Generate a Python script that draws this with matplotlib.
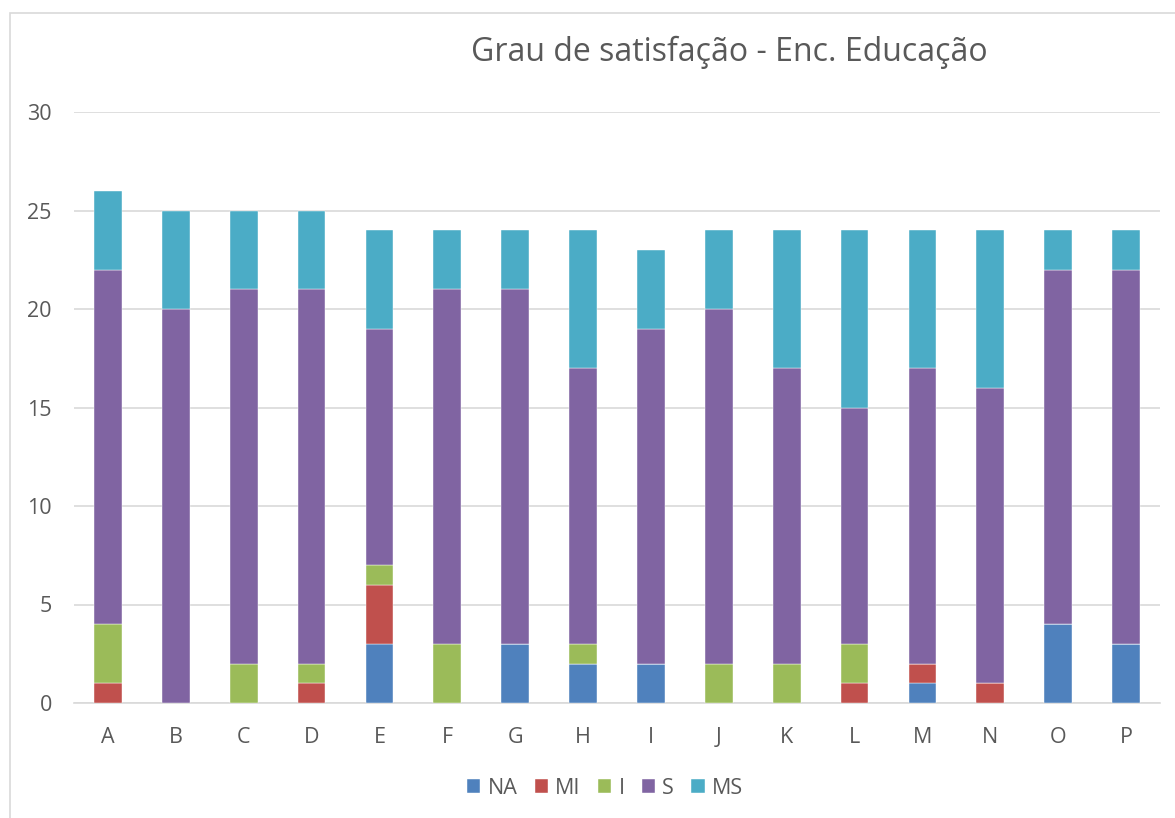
import matplotlib
matplotlib.use('Agg')
import matplotlib.pyplot as plt
import numpy as np
from matplotlib.patches import Rectangle

plt.rcParams['font.family'] = ['Open Sans', 'DejaVu Sans']

categories = ['A', 'B', 'C', 'D', 'E', 'F', 'G', 'H', 'I', 'J', 'K', 'L', 'M', 'N', 'O', 'P']
na = [0, 0, 0, 0, 3, 0, 3, 2, 2, 0, 0, 0, 1, 0, 4, 3]
mi = [1, 0, 0, 1, 3, 0, 0, 0, 0, 0, 0, 1, 1, 1, 0, 0]
ins = [3, 0, 2, 1, 1, 3, 0, 1, 0, 2, 2, 2, 0, 0, 0, 0]
sat = [18, 20, 19, 19, 12, 18, 18, 14, 17, 18, 15, 12, 15, 15, 18, 19]
ms = [4, 5, 4, 4, 5, 3, 3, 7, 4, 4, 7, 9, 7, 8, 2, 2]

series = [('NA', na, '#4F81BD'), ('MI', mi, '#C0504D'), ('I', ins, '#9BBB59'),
          ('S', sat, '#8064A2'), ('MS', ms, '#4BACC6')]

fig = plt.figure(figsize=(11.75, 8.18), dpi=100)
fig.patches.append(Rectangle((10/1175, -0.1), 1.2, 1 - 13/818 + 0.1, transform=fig.transFigure,
                             fill=False, edgecolor='#D9D9D9', linewidth=1.2))
ax = fig.add_axes([74/1175, 1 - 703/818, (1160-74)/1175, (703-112)/818])

x = np.arange(len(categories))
bottom = np.zeros(len(categories))
for name, vals, col in series:
    ax.bar(x, vals, 0.41, bottom=bottom, color=col, label=name, zorder=3,
           edgecolor='white', linewidth=0.3)
    bottom += np.array(vals)

ax.set_ylim(0, 30)
ax.set_xlim(-0.5, len(categories) - 0.5)
ax.set_yticks(range(0, 31, 5))
ax.yaxis.grid(True, color='#D9D9D9', linewidth=1.2, zorder=0)
for s in ['top', 'right', 'left']:
    ax.spines[s].set_visible(False)
ax.spines['bottom'].set_color('#D9D9D9')
ax.spines['bottom'].set_linewidth(1.2)
ax.set_xticks(x)
ax.set_xticklabels(categories)
ax.tick_params(axis='both', length=0, labelsize=15.5, colors='#595959')
ax.tick_params(axis='x', pad=17)
ax.tick_params(axis='y', pad=16)

fig.text(729/1175, 1 - 52/818, 'Grau de satisfação - Enc. Educação', ha='center', va='center',
         fontsize=23, color='#595959')

leg = fig.legend(loc='center', bbox_to_anchor=(605/1175, 1 - 788/818), ncol=5, frameon=False,
                 fontsize=15.5, handlelength=0.63, handleheight=0.63, handletextpad=0.33,
                 columnspacing=0.8, labelcolor='#595959')

fig.savefig('out.png', dpi=100)
